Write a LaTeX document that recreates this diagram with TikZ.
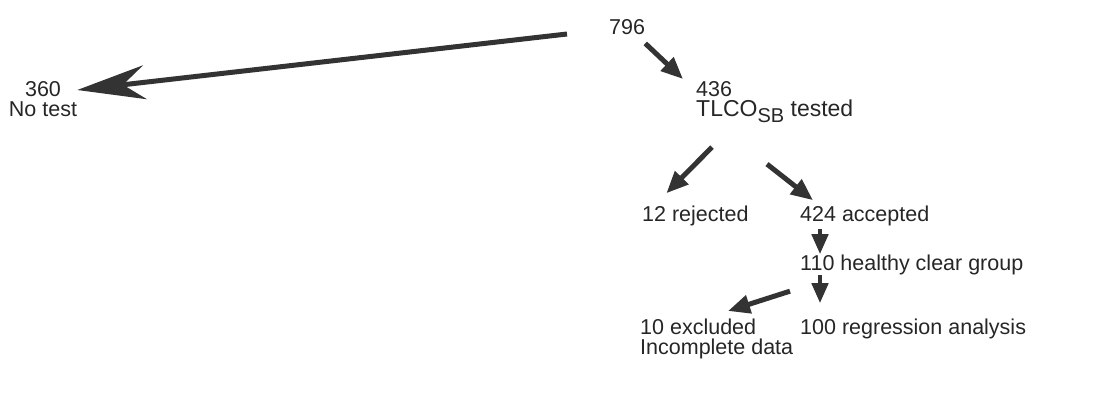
\documentclass[tikz,border=0pt]{standalone}
\usepackage{fontspec}
\setmainfont{Liberation Sans}
\usetikzlibrary{arrows.meta}

\begin{document}
\begin{tikzpicture}[x=1pt,y=-1pt,
  lbl/.style={inner sep=0pt,text=black!85,font=\fontsize{21.5}{20.5}\selectfont},
  fatarr/.style={draw=black!80,line width=5pt,-{Triangle[length=22pt,width=18pt]}},
  downarr/.style={draw=black!80,line width=4.5pt,-{Triangle[length=20pt,width=16pt]}},
  bigarr/.style={draw=black!80,line width=5pt,-{Stealth[length=68pt,width=34pt,inset=22pt]}}]
\useasboundingbox (0,0) rectangle (1109,392);

\node[lbl,anchor=base west] (n796) at (609,34) {796};
\node[lbl,anchor=north,align=center] (n360) at (43,81) {360\\No test};
\node[lbl,anchor=north west,align=left] (n436) at (696,81) {436\\{\fontsize{23}{21}\selectfont TLCO\raisebox{-6pt}{\fontsize{20}{20}\selectfont SB} tested}};
\node[lbl,anchor=base west] (n12) at (642,221) {12 rejected};
\node[lbl,anchor=base west] (n424) at (800,221) {424 accepted};
\node[lbl,anchor=base west] (n110) at (800,270) {110 healthy clear group};
\node[lbl,anchor=base west] (n100) at (800,334) {100 regression analysis};
\node[lbl,anchor=north west,align=left] (n10) at (640,318.6) {10 excluded\\Incomplete data};

\draw[bigarr] ([xshift=-42pt]n796.base west) -- ([yshift=-9pt]n360.north east);
\draw[fatarr] ([yshift=-9pt]n796.south east) -- ([shift={(-13pt,2pt)}]n436.north west);
\draw[fatarr] ([shift={(16pt,-24pt)}]n436.south west) -- ([shift={(-29pt,12pt)}]n12.north);
\draw[fatarr] ([shift={(71pt,-41pt)}]n436.south west) -- ([shift={(13pt,5pt)}]n424.north west);
\draw[downarr] ([shift={(20pt,-3.5pt)}]n424.south west) -- ([xshift=20pt]n110.north west);
\draw[downarr] ([xshift=20pt]n110.south west) -- ([shift={(20pt,15pt)}]n100.north west);
\draw[fatarr] ([shift={(-10pt,-16.5pt)}]n110.south west) -- ([shift={(88pt,7.6pt)}]n10.north west);
\end{tikzpicture}
\end{document}
